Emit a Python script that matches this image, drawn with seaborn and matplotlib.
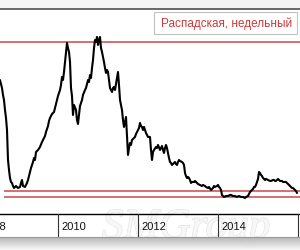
import matplotlib
matplotlib.use("Agg")
import matplotlib.pyplot as plt
import matplotlib.patheffects as pe
from matplotlib.patches import Rectangle
import numpy as np
import pandas as pd
import seaborn as sns

sns.set_style("white")
plt.rcParams['font.family'] = ['Liberation Sans', 'DejaVu Sans']

title = "Распадская, недельный"
watermark = "SMGroup"

years = [2008.525, 2008.575, 2008.600, 2008.625, 2008.650, 2008.675, 2008.700, 2008.725, 2008.750, 2008.775,
         2008.800, 2008.825, 2008.850, 2008.875, 2008.925, 2008.975, 2009.025, 2009.050, 2009.075, 2009.100,
         2009.150, 2009.200, 2009.225, 2009.275, 2009.300, 2009.350, 2009.375, 2009.400, 2009.425, 2009.475,
         2009.525, 2009.575, 2009.600, 2009.650, 2009.675, 2009.725, 2009.750, 2009.775, 2009.825, 2009.875,
         2009.900, 2009.950, 2009.975, 2010.025, 2010.050, 2010.075, 2010.100, 2010.125, 2010.150, 2010.175,
         2010.200, 2010.225, 2010.250, 2010.275, 2010.300, 2010.325, 2010.350, 2010.375, 2010.425, 2010.450,
         2010.475, 2010.500, 2010.525, 2010.575, 2010.600, 2010.650, 2010.675, 2010.725, 2010.750, 2010.775,
         2010.800, 2010.825, 2010.850, 2010.875, 2010.900, 2010.925, 2010.950, 2010.975, 2011.000, 2011.025,
         2011.050, 2011.075, 2011.100, 2011.125, 2011.150, 2011.175, 2011.200, 2011.225, 2011.250, 2011.275,
         2011.300, 2011.325, 2011.350, 2011.375, 2011.400, 2011.425, 2011.450, 2011.475, 2011.500, 2011.525,
         2011.550, 2011.575, 2011.600, 2011.625, 2011.650, 2011.675, 2011.700, 2011.725, 2011.750, 2011.775,
         2011.800, 2011.825, 2011.875, 2011.900, 2011.925, 2011.975, 2012.000, 2012.025, 2012.050, 2012.075,
         2012.100, 2012.125, 2012.150, 2012.175, 2012.225, 2012.275, 2012.300, 2012.325, 2012.350, 2012.375,
         2012.425, 2012.450, 2012.475, 2012.525, 2012.550, 2012.575, 2012.600, 2012.625, 2012.650, 2012.675,
         2012.700, 2012.725, 2012.750, 2012.775, 2012.800, 2012.825, 2012.875, 2012.900, 2012.925, 2012.950,
         2012.975, 2013.000, 2013.025, 2013.075, 2013.100, 2013.125, 2013.150, 2013.175, 2013.200, 2013.225,
         2013.250, 2013.275, 2013.300, 2013.325, 2013.375, 2013.400, 2013.450, 2013.475, 2013.525, 2013.575,
         2013.600, 2013.650, 2013.675, 2013.725, 2013.750, 2013.800, 2013.825, 2013.850, 2013.875, 2013.900,
         2013.950, 2013.975, 2014.000, 2014.025, 2014.050, 2014.075, 2014.100, 2014.125, 2014.175, 2014.225,
         2014.275, 2014.300, 2014.350, 2014.400, 2014.450, 2014.500, 2014.550, 2014.600, 2014.650, 2014.675,
         2014.725, 2014.750, 2014.775, 2014.800, 2014.825, 2014.850, 2014.875, 2014.900, 2014.925, 2014.950,
         2014.975, 2015.000, 2015.025, 2015.050, 2015.075, 2015.100, 2015.125, 2015.150, 2015.175, 2015.225,
         2015.275, 2015.300, 2015.350, 2015.375, 2015.400, 2015.425, 2015.450, 2015.475, 2015.500, 2015.525,
         2015.575, 2015.600, 2015.650, 2015.675, 2015.700, 2015.725, 2015.750, 2015.775, 2015.800, 2015.825,
         2015.850, 2015.875, 2015.900, 2015.925, 2015.950]

prices = [167.5, 157.5, 148.8, 142.5, 130.0, 120.0, 105.0, 67.5, 55.0, 45.0,
          40.0, 38.8, 35.0, 32.5, 35.0, 32.5, 33.8, 38.8, 42.5, 35.0,
          33.8, 38.8, 42.5, 52.5, 57.5, 65.0, 70.0, 67.5, 77.5, 80.0,
          83.8, 90.0, 92.5, 97.5, 102.5, 110.0, 116.3, 120.0, 125.0, 127.5,
          132.5, 142.5, 147.5, 155.0, 161.3, 171.3, 167.5, 177.5, 190.0, 202.5,
          213.8, 207.5, 202.5, 190.0, 157.5, 147.5, 123.8, 136.3, 130.0, 117.5,
          112.5, 123.8, 135.0, 142.5, 148.8, 155.0, 157.5, 167.5, 165.0, 173.8,
          170.0, 182.5, 192.5, 207.5, 217.5, 215.0, 221.3, 211.3, 217.5, 221.3,
          207.5, 202.5, 196.3, 190.0, 182.5, 176.3, 180.0, 177.5, 167.5, 157.5,
          155.0, 152.5, 157.5, 158.8, 155.0, 162.5, 170.0, 177.5, 161.3, 142.5,
          136.3, 130.0, 117.5, 108.8, 115.0, 121.3, 96.3, 73.8, 82.5, 88.8,
          86.3, 92.5, 95.0, 96.3, 100.0, 105.0, 107.5, 113.8, 110.0, 108.8,
          105.0, 108.8, 105.0, 101.3, 96.3, 96.3, 80.0, 67.5, 77.5, 80.0,
          83.8, 82.5, 86.3, 80.0, 82.5, 85.0, 80.0, 76.3, 82.5, 86.3,
          82.5, 76.3, 70.0, 65.0, 63.8, 61.3, 63.8, 65.0, 62.5, 61.3,
          65.0, 67.5, 66.3, 65.0, 63.8, 61.3, 51.3, 47.5, 45.0, 46.3,
          45.0, 42.5, 38.8, 40.0, 40.0, 41.3, 38.8, 37.5, 36.3, 35.0,
          36.3, 35.0, 33.8, 32.5, 33.8, 30.0, 31.3, 32.5, 35.0, 33.8,
          35.0, 36.3, 33.8, 32.5, 30.0, 23.8, 22.5, 21.3, 22.5, 22.5,
          23.8, 23.8, 22.5, 22.5, 21.3, 22.5, 21.3, 21.3, 20.0, 21.3,
          22.5, 25.0, 27.5, 28.8, 30.0, 31.3, 33.8, 33.8, 36.3, 40.0,
          43.8, 52.5, 51.3, 48.8, 47.5, 45.0, 43.8, 42.5, 43.8, 42.5,
          41.3, 41.3, 42.5, 42.5, 41.3, 41.3, 42.5, 43.8, 42.5, 41.3,
          41.3, 40.0, 40.0, 40.0, 38.8, 37.5, 36.3, 35.0, 33.8, 32.5,
          32.5, 31.3, 30.0, 28.8, 26.3]

resistance = [215.0]
supports = [29.0, 21.0]
tick_years = [2008, 2010, 2012, 2014, 2016]
label_years = [2008, 2010, 2012, 2014]

W, H = 300, 250
fig = plt.figure(figsize=(3, 2.5), dpi=100, facecolor='white')

def fx(x):
    return x / W

def fy(y):
    return 1 - y / H

xlim = (2008.525, 2016.025)

# watermark (behind everything)
wm = fig.text(fx(186), fy(228), watermark, fontsize=31, style='italic', family='Liberation Serif',
              color='#f7f7f7', ha='center', va='center', zorder=-5)
wm.set_path_effects([pe.withStroke(linewidth=1.0, foreground='#e2e2e2'), pe.Normal()])

# main axes
ax = fig.add_axes([0, fy(214), 1, (214 - 10) / H])
ax.set_facecolor('none')
df = pd.DataFrame({'year': years, 'price': prices})
sns.lineplot(data=df, x='year', y='price', ax=ax, color='black', lw=1.5, estimator=None, sort=False)
ax.set_xlim(*xlim)
ax.set_ylim(0, 255)
for r in resistance:
    ax.axhline(r, color='#cc4444', lw=1.2, alpha=0.9, zorder=1)
for s in supports:
    ax.hlines(s, 2008.625, xlim[1], color='#cc4444', lw=1.2, alpha=0.9, zorder=1)
ax.set_xticks([]); ax.set_yticks([])
ax.set_xlabel(''); ax.set_ylabel('')
for sp in ['top', 'left', 'right']:
    ax.spines[sp].set_visible(False)
ax.spines['bottom'].set_color('black')
ax.spines['bottom'].set_linewidth(1.0)

# tick label strip
ax2 = fig.add_axes([0, fy(237), 1, (237 - 214) / H])
ax2.set_facecolor('none')
ax2.set_zorder(3)
ax2.set_xlim(*xlim); ax2.set_ylim(0, 1)
ax2.set_xticks([]); ax2.set_yticks([])
for sp in ['top', 'left', 'right']:
    ax2.spines[sp].set_visible(False)
ax2.spines['bottom'].set_color('#999999')
for t in tick_years:
    ax2.axvline(t - 0.025, color='#333333', lw=0.8)
for t in label_years:
    ax2.text(t + 0.05, 0.45, str(t), ha='left', va='center', fontsize=8, color='#111111')

# bottom shadow gradient
ax3 = fig.add_axes([0, 0, 1, (250 - 237) / H])
grad = np.linspace(0.68, 0.97, 50).reshape(-1, 1)
ax3.imshow(grad, aspect='auto', cmap='gray', vmin=0, vmax=1, extent=[0, 1, 0, 1], origin='upper', alpha=0.9)
ax3.axis('off')

# top frame line
fig.add_artist(plt.Line2D([0, 1], [fy(9), fy(9)], color='#666666', lw=1.4))
fig.add_artist(Rectangle((0, fy(8)), 1, 8 / H, facecolor='#f4f4f4', edgecolor='none', transform=fig.transFigure))

# legend box
fig.add_artist(Rectangle((fx(154), fy(34)), (297 - 154) / W, (34 - 12) / H, facecolor='white',
                         edgecolor='#c0c0c0', lw=0.8, transform=fig.transFigure))
fig.text(fx(227), fy(23.5), title, ha='center', va='center', fontsize=8.5, color='#cc3a3a')

fig.savefig('out.png', dpi=100)
